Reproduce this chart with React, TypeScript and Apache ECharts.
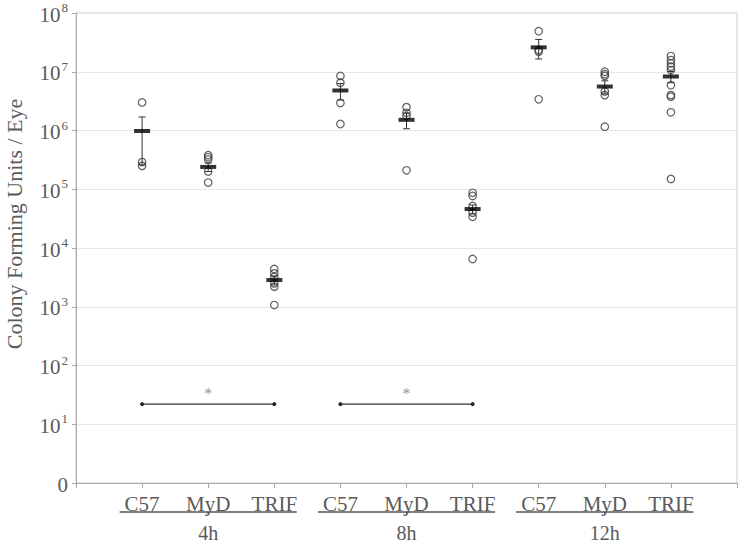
import React, { useEffect, useRef } from "react";
import * as echarts from "echarts";

const groups = ["4h", "8h", "12h"];
const strains = ["C57", "MyD", "TRIF"];

const c57_4h = [3.0e6, 2.9e5, 2.5e5];
const myd_4h = [3.8e5, 3.5e5, 3.2e5, 2.0e5, 1.3e5];
const trif_4h = [4.4e3, 3.7e3, 3.2e3, 2.5e3, 2.2e3, 1.07e3];
const c57_8h = [8.5e6, 6.5e6, 2.95e6, 1.29e6];
const myd_8h = [2.5e6, 2.0e6, 1.77e6, 2.1e5];
const trif_8h = [8.7e4, 7.7e4, 5.2e4, 4.0e4, 3.4e4, 6.5e3];
const c57_12h = [4.9e7, 2.35e7, 2.2e7, 3.4e6];
const myd_12h = [1.0e7, 9.1e6, 8.5e6, 4.6e6, 4.0e6, 1.16e6];
const trif_12h = [1.85e7, 1.58e7, 1.39e7, 1.22e7, 1.07e7, 5.9e6, 4.0e6, 3.76e6, 2.04e6, 1.5e5];

const means = [9.8e5, 2.4e5, 2.85e3, 4.8e6, 1.52e6, 4.6e4, 2.6e7, 5.6e6, 8.3e6];
const sems = [7.2e5, 4.0e4, 5.0e2, 1.5e6, 4.5e5, 8.0e3, 9.5e6, 1.4e6, 1.8e6];

const sigLevel = 22;
const sigPairs = [
  [1, 3],
  [4, 6],
];

const yTicks = [1, 10, 100, 1e3, 1e4, 1e5, 1e6, 1e7, 1e8];

const FONT = "'Liberation Serif', 'DejaVu Serif', serif";
const TXT = "#5a5a5a";

export default function App() {
  const ref = useRef<HTMLDivElement>(null);
  useEffect(() => {
    if (!ref.current) return;
    const chart = echarts.init(ref.current, null, { renderer: "svg" });
    const allGroups = [c57_4h, myd_4h, trif_4h, c57_8h, myd_8h, trif_8h, c57_12h, myd_12h, trif_12h];
    const pts: number[][] = [];
    allGroups.forEach((arr, i) => arr.forEach((v) => pts.push([i + 1, v])));
    const meanData = means.map((m, i) => [i + 1, m]);
    const errData = means.map((m, i) => [i + 1, m, sems[i]]);

    const series: any[] = [
      {
        type: "custom",
        z: 2,
        renderItem: (params: any, api: any) => {
          const x = api.value(0);
          const m = api.value(1);
          const e = api.value(2);
          const top = api.coord([x, m + e]);
          const bot = api.coord([x, Math.max(m - e, 1)]);
          const cw = 3.5;
          const st = { stroke: "#333", lineWidth: 1 };
          return {
            type: "group",
            children: [
              { type: "line", shape: { x1: top[0], y1: top[1], x2: bot[0], y2: bot[1] }, style: st },
              { type: "line", shape: { x1: top[0] - cw, y1: top[1], x2: top[0] + cw, y2: top[1] }, style: st },
              { type: "line", shape: { x1: bot[0] - cw, y1: bot[1], x2: bot[0] + cw, y2: bot[1] }, style: st },
            ],
          };
        },
        data: errData,
      },
      {
        type: "scatter",
        z: 3,
        symbol: "circle",
        symbolSize: 7.5,
        itemStyle: { color: "rgba(0,0,0,0)", borderColor: "#3a3a3a", borderWidth: 1.2 },
        data: pts,
      },
      {
        type: "scatter",
        z: 4,
        symbol: "rect",
        symbolSize: [16, 4],
        itemStyle: { color: "#000" },
        data: meanData,
      },
    ];
    sigPairs.forEach((p) => {
      series.push({
        type: "line",
        z: 3,
        data: [
          [p[0], sigLevel],
          [p[1], sigLevel],
        ],
        symbol: "circle",
        symbolSize: 4,
        showSymbol: true,
        lineStyle: { color: "#333", width: 1.3 },
        itemStyle: { color: "#222" },
      });
      series.push({
        type: "scatter",
        z: 3,
        data: [[(p[0] + p[1]) / 2, sigLevel]],
        symbolSize: 0,
        itemStyle: { color: "#777" },
        label: {
          show: true,
          formatter: "*",
          position: "top",
          distance: 3,
          color: "#777",
          fontSize: 16,
          fontFamily: FONT,
        },
      });
    });

    chart.setOption({
      animation: false,
      grid: { left: 76, right: 2, top: 13, bottom: 62, show: true, borderColor: "#c8c8c8", borderWidth: 1 },
      xAxis: {
        type: "value",
        min: 0,
        max: 10,
        interval: 1,
        splitLine: { show: false },
        axisLine: { show: true, lineStyle: { color: "#aaa" } },
        axisTick: { show: true, length: 5, lineStyle: { color: "#aaa" } },
        axisLabel: {
          margin: 10,
          fontFamily: FONT,
          fontSize: 21,
          color: TXT,
          formatter: (v: number) => (v >= 1 && v <= 9 ? strains[(v - 1) % 3] : ""),
        },
      },
      yAxis: {
        type: "log",
        logBase: 10,
        min: 1,
        max: 1e8,
        splitLine: { show: true, lineStyle: { color: "#e8e8e8" } },
        axisLine: { show: true, lineStyle: { color: "#aaa" } },
        axisTick: { show: true, length: 4, lineStyle: { color: "#aaa" } },
        axisLabel: {
          margin: 8,
          fontFamily: FONT,
          color: TXT,
          formatter: (v: number) => {
            if (!yTicks.includes(v)) return "";
            if (v === 1) return "{b|0}";
            return "{b|10}{s|" + Math.round(Math.log10(v)) + "}";
          },
          rich: {
            b: { fontFamily: FONT, fontSize: 21, color: TXT, lineHeight: 24, verticalAlign: "bottom" },
            s: { fontFamily: FONT, fontSize: 13, color: TXT, lineHeight: 24, verticalAlign: "top", padding: [0, 0, 0, 1] },
          },
        },
      },
      series,
    });

    const y0 = 512;
    const graphic: any[] = [
      {
        type: "text",
        x: 14,
        y: 224,
        rotation: Math.PI / 2,
        style: {
          text: "Colony Forming Units / Eye",
          font: "22px " + FONT,
          fill: TXT,
          align: "center",
          verticalAlign: "middle",
        },
      },
    ];
    groups.forEach((g, gi) => {
      const c = gi * 3 + 2;
      const xl = chart.convertToPixel({ xAxisIndex: 0 }, c - 1.34) as number;
      const xr = chart.convertToPixel({ xAxisIndex: 0 }, c + 1.34) as number;
      const xc = chart.convertToPixel({ xAxisIndex: 0 }, c) as number;
      graphic.push({ type: "line", shape: { x1: xl, y1: y0, x2: xr, y2: y0 }, style: { stroke: "#555", lineWidth: 1.5 } });
      graphic.push({ type: "line", shape: { x1: xc, y1: y0, x2: xc, y2: y0 + 3 }, style: { stroke: "#555", lineWidth: 1.5 } });
      graphic.push({
        type: "text",
        x: xc,
        y: 533,
        style: { text: g, font: "20px " + FONT, fill: TXT, align: "center", verticalAlign: "middle" },
      });
    });
    chart.setOption({ graphic });

    return () => chart.dispose();
  }, []);
  return <div ref={ref} style={{ position: "absolute", left: 0, top: 0, width: 740, height: 545 }} />;
}
